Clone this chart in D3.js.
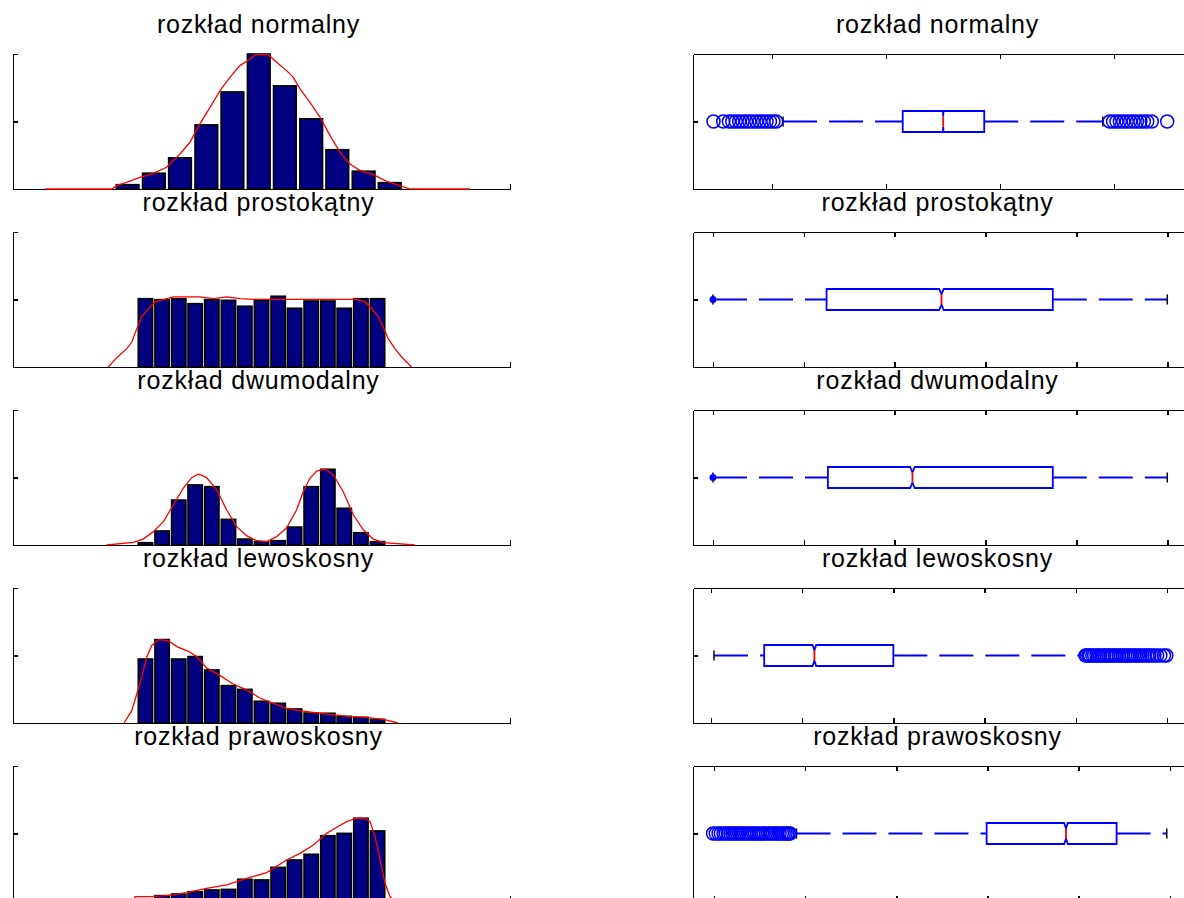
<!DOCTYPE html>
<html>
<head>
<meta charset="utf-8">
<script src="https://cdn.jsdelivr.net/npm/d3@7"></script>
<style>
	body { margin: 0; background: #fff; overflow: hidden; }
	svg { display: block; }
	.title { font-family: "Liberation Sans", Arial, sans-serif; font-size: 25px; letter-spacing: 0.8px; fill: #000; }
	.axis path, .axis line { stroke: #000; stroke-width: 1.5; shape-rendering: crispEdges; }
</style>
</head>
<body>
<div id="chart"></div>
<script>

// ---- titles (same for both columns) ----
var titles = ['rozkład normalny', 'rozkład prostokątny', 'rozkład dwumodalny',
	'rozkład lewoskosny', 'rozkład prawoskosny'];

// ---- histograms (left column), x in [-0.5, 1.5], y counts ----
var histXDomain = [-0.5, 1.5];
var histYDomain = [0, 1000];
var histYTicks = [0, 500, 1000];

var normalBins = [-0.039, 0.067, 0.172, 0.278, 0.383, 0.489, 0.594, 0.700, 0.805, 0.911, 1.016];
var normalCounts = [32, 117, 231, 475, 719, 1000, 764, 520, 291, 132, 47];
var normalKdeX = [-0.371, -0.103, -0.083, -0.043, 0.011, 0.065, 0.118, 0.172, 0.212, 0.252, 0.293,
	0.333, 0.373, 0.413, 0.454, 0.474, 0.528, 0.561, 0.601, 0.628, 0.655, 0.695, 0.736, 0.776,
	0.816, 0.856, 0.897, 0.950, 1.004, 1.057, 1.098, 1.339];
var normalKdeY = [0, 0, 25, 49, 86, 116, 161, 259, 346, 482, 605, 729, 827, 914, 963, 995, 995,
	939, 877, 827, 741, 642, 531, 395, 272, 185, 136, 106, 57, 25, 0, 0];

// the other four histograms share 15 bins on [0, 1]
var bins15 = [0.033, 0.1, 0.167, 0.233, 0.3, 0.367, 0.433, 0.5, 0.567, 0.633, 0.7, 0.767, 0.833, 0.9, 0.967];

var uniformCounts = [506, 499, 506, 469, 499, 494, 450, 494, 524, 435, 489, 489, 435, 506, 506];
var uniformKdeX = [-0.116, -0.083, -0.042, -0.022, -0.002, 0.018, 0.045, 0.072, 0.105, 0.145, 0.253,
	0.306, 0.36, 0.414, 0.467, 0.6, 0.75, 0.883, 0.917, 0.943, 0.97, 0.99, 1.01, 1.037, 1.064, 1.084, 1.104];
var uniformKdeY = [0, 69, 136, 185, 284, 371, 432, 482, 499, 519, 519, 506, 519, 506, 501, 501, 501,
	501, 482, 432, 371, 296, 210, 136, 74, 37, 0];

var bimodalCounts = [17, 104, 333, 445, 432, 190, 44, 25, 32, 133, 432, 561, 272, 91, 25];
var bimodalKdeX = [-0.123, -0.016, 0.024, 0.065, 0.105, 0.145, 0.185, 0.219, 0.246, 0.279, 0.32, 0.36,
	0.4, 0.44, 0.48, 0.521, 0.561, 0.601, 0.641, 0.668, 0.695, 0.722, 0.756, 0.789, 0.829, 0.87,
	0.91, 0.95, 0.991, 1.118];
var bimodalKdeY = [0, 20, 44, 99, 173, 296, 420, 499, 526, 499, 408, 259, 136, 69, 32, 25, 62, 128,
	259, 395, 494, 548, 563, 519, 395, 222, 111, 44, 17, 0];

var leftSkewCounts = [474, 618, 474, 492, 393, 277, 249, 161, 146, 104, 74, 72, 49, 42, 27];
var leftSkewKdeX = [-0.053, -0.022, -0.002, 0.018, 0.038, 0.058, 0.085, 0.125, 0.159, 0.206, 0.239,
	0.279, 0.333, 0.386, 0.44, 0.494, 0.547, 0.601, 0.655, 0.722, 0.789, 0.856, 0.923, 0.99, 1.05];
var leftSkewKdeY = [0, 91, 215, 338, 487, 573, 618, 610, 566, 531, 492, 408, 351, 289, 245, 185, 146,
	111, 91, 74, 62, 47, 42, 27, 0];

var rightSkewCounts = [5, 40, 52, 69, 82, 86, 161, 156, 249, 304, 346, 484, 501, 613, 519];
var rightSkewKdeX = [-0.015, -0.009, 0.051, 0.118, 0.199, 0.279, 0.36, 0.44, 0.521, 0.601, 0.655, 0.709,
	0.762, 0.803, 0.843, 0.883, 0.917, 0.937, 0.957, 0.977, 0.997, 1.017, 1.037];
var rightSkewKdeY = [0, 32, 32, 40, 62, 94, 119, 168, 210, 304, 353, 415, 501, 546, 588, 613, 613, 588,
	477, 304, 131, 32, 0];

// ---- boxplots (right column) ----
// stats: [lower whisker, q1, median, q3, upper whisker]
var normalBox = [-2.81, -0.71, 0.0, 0.72, 2.80];
var normalNotch = 0.004;
var normalBoxDomain = [-4.39, 4.33];
var normalBoxTicks = [-3, -1, 1, 3];
var normalOutliers = [-4.03, -3.86, -3.76, -3.70, -3.64, -3.58, -3.52, -3.46, -3.40, -3.34, -3.28,
	-3.22, -3.16, -3.10, -3.04, -2.98, -2.93,
	2.92, 2.98, 3.04, 3.10, 3.16, 3.22, 3.28, 3.34, 3.40, 3.46, 3.52, 3.58, 3.66, 3.93];

var unitTicks = [0, 0.2, 0.4, 0.6, 0.8, 1];

var uniformBox = [0, 0.25, 0.503, 0.748, 1.0];
var uniformNotch = 0.005;
var uniformBoxDomain = [-0.044, 1.05];
var uniformOutliers = [];

var bimodalBox = [0, 0.253, 0.439, 0.748, 1.0];
var bimodalNotch = 0.005;
var bimodalBoxDomain = [-0.044, 1.05];
var bimodalOutliers = [];

var leftSkewBox = [0.007, 0.117, 0.227, 0.400, 0.816];
var leftSkewNotch = 0.004;
var leftSkewBoxDomain = [-0.039, 1.05];
var leftSkewOutliers = [0.821, 0.824, 0.828, 0.831, 0.836, 0.84, 0.845, 0.849, 0.853, 0.858, 0.862,
	0.867, 0.871, 0.876, 0.88, 0.885, 0.889, 0.894, 0.899, 0.903, 0.908, 0.913, 0.917, 0.922, 0.927,
	0.931, 0.936, 0.941, 0.946, 0.951, 0.956, 0.961, 0.966, 0.972, 0.978, 0.985, 0.993, 0.998];

var rightSkewBox = [0.181, 0.598, 0.772, 0.883, 0.993];
var rightSkewNotch = 0.004;
var rightSkewBoxDomain = [-0.046, 1.044];
var rightSkewOutliers = [-0.002, 0.004, 0.01, 0.015, 0.021, 0.026, 0.031, 0.036, 0.041, 0.046, 0.051,
	0.056, 0.061, 0.066, 0.071, 0.076, 0.081, 0.086, 0.09, 0.095, 0.1, 0.105, 0.109, 0.114, 0.119,
	0.124, 0.129, 0.134, 0.139, 0.144, 0.149, 0.153, 0.157, 0.161, 0.164, 0.167];

// rows that show a dot at the lower whisker end
var endDots = [false, true, true, false, false];

var panels = [
	{ bins: normalBins, counts: normalCounts, kdeX: normalKdeX, kdeY: normalKdeY,
		box: normalBox, notch: normalNotch, boxDomain: normalBoxDomain, boxTicks: normalBoxTicks, outliers: normalOutliers },
	{ bins: bins15, counts: uniformCounts, kdeX: uniformKdeX, kdeY: uniformKdeY,
		box: uniformBox, notch: uniformNotch, boxDomain: uniformBoxDomain, boxTicks: unitTicks, outliers: uniformOutliers },
	{ bins: bins15, counts: bimodalCounts, kdeX: bimodalKdeX, kdeY: bimodalKdeY,
		box: bimodalBox, notch: bimodalNotch, boxDomain: bimodalBoxDomain, boxTicks: unitTicks, outliers: bimodalOutliers },
	{ bins: bins15, counts: leftSkewCounts, kdeX: leftSkewKdeX, kdeY: leftSkewKdeY,
		box: leftSkewBox, notch: leftSkewNotch, boxDomain: leftSkewBoxDomain, boxTicks: unitTicks, outliers: leftSkewOutliers },
	{ bins: bins15, counts: rightSkewCounts, kdeX: rightSkewKdeX, kdeY: rightSkewKdeY,
		box: rightSkewBox, notch: rightSkewNotch, boxDomain: rightSkewBoxDomain, boxTicks: unitTicks, outliers: rightSkewOutliers }
];

// ---- layout ----
var width = 1184, height = 898;
var leftX0 = 13, leftX1 = 510;
var rightX0 = 693, rightX1 = 1190;
var rowTop0 = 54, rowPitch = 178, rowHeight = 135;
var tickLen = 5;
var boxHalf = 10.5;
var blueWidth = 1.8;

var svg = d3.select('#chart').append('svg')
	.attr('width', width)
	.attr('height', height);

function styleAxis(g) {
	g.attr('class', 'axis').attr('fill', 'none');
	g.selectAll('text').remove();
}

function drawTitle(text, cx, top) {
	svg.append('text')
		.attr('class', 'title')
		.attr('x', cx)
		.attr('y', top - 21)
		.attr('text-anchor', 'middle')
		.text(text);
}

// histogram with bars and density curve
function drawHistogram(p, i) {
	var top = rowTop0 + i * rowPitch;
	var x = d3.scaleLinear().domain(histXDomain).range([leftX0, leftX1]);
	var y = d3.scaleLinear().domain(histYDomain).range([top + rowHeight, top]);
	var g = svg.append('g');

	g.append('g')
		.attr('transform', 'translate(' + leftX0 + ',0)')
		.call(d3.axisLeft(y).tickValues(histYTicks).tickSizeInner(-tickLen).tickSizeOuter(0).tickFormat(''))
		.call(styleAxis);
	g.append('g')
		.attr('transform', 'translate(0,' + y(0) + ')')
		.call(d3.axisBottom(x).tickValues(histXDomain).tickSizeInner(-tickLen).tickSizeOuter(0).tickFormat(''))
		.call(styleAxis);

	var barW = (x(p.bins[1]) - x(p.bins[0])) * 0.86;
	g.selectAll('rect.bar')
		.data(p.counts)
		.enter()
		.append('rect')
		.attr('class', 'bar')
		.attr('x', function(d, j) { return x(p.bins[j]) - barW / 2; })
		.attr('y', function(d) { return y(d); })
		.attr('width', barW)
		.attr('height', function(d) { return y(0) - y(d); })
		.attr('fill', '#000080')
		.attr('stroke', '#000')
		.attr('stroke-width', 1.6);

	var line = d3.line()
		.x(function(d, j) { return x(p.kdeX[j]); })
		.y(function(d) { return y(d); });
	g.append('path')
		.attr('d', line(p.kdeY))
		.attr('fill', 'none')
		.attr('stroke', '#ff0000')
		.attr('stroke-width', 1.3);

	drawTitle(titles[i], (leftX0 + leftX1) / 2 - 3, top);
}

// horizontal notched boxplot
function drawBoxplot(p, i) {
	var top = rowTop0 + i * rowPitch;
	var x = d3.scaleLinear().domain(p.boxDomain).range([rightX0, rightX1]);
	var y = d3.scaleLinear().domain([0.5, 1.5]).range([top + rowHeight, top]);
	var cy = y(1);
	var g = svg.append('g');

	g.append('g')
		.attr('transform', 'translate(0,' + top + ')')
		.call(d3.axisTop(x).tickValues(p.boxTicks).tickSizeInner(-tickLen).tickSizeOuter(0).tickFormat(''))
		.call(styleAxis);
	g.append('g')
		.attr('transform', 'translate(0,' + (top + rowHeight) + ')')
		.call(d3.axisBottom(x).tickValues(p.boxTicks).tickSizeInner(-tickLen).tickSizeOuter(0).tickFormat(''))
		.call(styleAxis);
	g.append('g')
		.attr('transform', 'translate(' + rightX0 + ',0)')
		.call(d3.axisLeft(y).tickValues([1]).tickSizeInner(-tickLen).tickSizeOuter(0).tickFormat(''))
		.call(styleAxis);
	g.append('g')
		.attr('transform', 'translate(' + rightX1 + ',0)')
		.call(d3.axisRight(y).tickValues([1]).tickSizeInner(-tickLen).tickSizeOuter(0).tickFormat(''))
		.call(styleAxis);

	var b = p.box;
	// whiskers (dashed), drawn from the far end toward the box
	var wg = g.append('g')
		.attr('stroke', '#0000ff')
		.attr('stroke-width', blueWidth)
		.attr('stroke-dasharray', '34,12');
	wg.append('line')
		.attr('x1', x(b[0])).attr('x2', x(b[1]))
		.attr('y1', cy).attr('y2', cy);
	wg.append('line')
		.attr('x1', x(b[3])).attr('x2', x(b[4]))
		.attr('y1', cy).attr('y2', cy);

	// adjacent value caps
	[b[0], b[4]].forEach(function(v) {
		g.append('line')
			.attr('x1', x(v)).attr('x2', x(v))
			.attr('y1', cy - 5).attr('y2', cy + 5)
			.attr('stroke', '#000')
			.attr('stroke-width', 1.5);
	});

	// notched box
	var nh = boxHalf * 0.5;
	var pts = [
		[x(b[1]), cy - boxHalf], [x(b[2] - p.notch), cy - boxHalf], [x(b[2]), cy - nh],
		[x(b[2] + p.notch), cy - boxHalf], [x(b[3]), cy - boxHalf], [x(b[3]), cy + boxHalf],
		[x(b[2] + p.notch), cy + boxHalf], [x(b[2]), cy + nh], [x(b[2] - p.notch), cy + boxHalf],
		[x(b[1]), cy + boxHalf]
	];
	g.append('path')
		.attr('d', d3.line()(pts) + 'Z')
		.attr('fill', 'none')
		.attr('stroke', '#0000ff')
		.attr('stroke-width', blueWidth);
	g.append('line')
		.attr('x1', x(b[2])).attr('x2', x(b[2]))
		.attr('y1', cy - nh).attr('y2', cy + nh)
		.attr('stroke', '#ff0000')
		.attr('stroke-width', blueWidth);

	// outliers
	g.selectAll('circle.out')
		.data(p.outliers)
		.enter()
		.append('circle')
		.attr('class', 'out')
		.attr('cx', function(d) { return x(d); })
		.attr('cy', cy)
		.attr('r', 6.5)
		.attr('fill', 'none')
		.attr('stroke', '#0000ff')
		.attr('stroke-width', 1.5);

	if (endDots[i]) {
		g.append('circle')
			.attr('cx', x(b[0]))
			.attr('cy', cy)
			.attr('r', 3.5)
			.attr('fill', '#0000ff');
	}

	drawTitle(titles[i], (rightX0 + rightX1) / 2 - 4, top);
}

panels.forEach(function(p, i) {
	drawHistogram(p, i);
	drawBoxplot(p, i);
});

</script>
</body>
</html>
